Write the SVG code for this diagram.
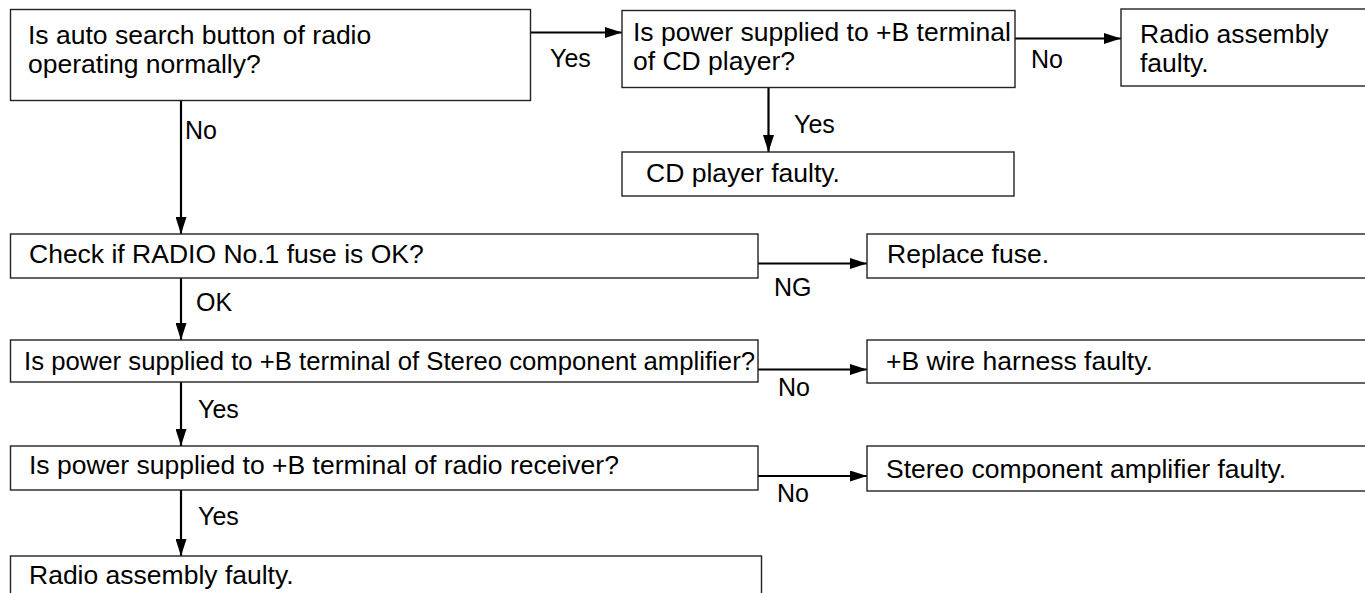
<svg xmlns="http://www.w3.org/2000/svg" width="1365" height="593" viewBox="0 0 1365 593">
<style>
  .box { fill: #fff; stroke: #222; stroke-width: 1.4; }
  .t { font-family: "Liberation Sans", Arial, sans-serif; font-size: 26.5px; fill: #000; }
  .lbl { font-family: "Liberation Sans", Arial, sans-serif; font-size: 25px; fill: #000; }
  .c { stroke: #000; stroke-width: 2.2; fill: none; }
</style>
<defs>
  <marker id="ah" markerUnits="userSpaceOnUse" markerWidth="17" markerHeight="11" refX="17" refY="5.5" orient="auto">
    <path d="M0,0 L17,5.5 L0,11 Z" fill="#000"/>
  </marker>
</defs>
<rect width="1365" height="593" fill="#fff"/>
<g id="connectors">
  <line class="c" x1="531" y1="32.5" x2="622" y2="32.5" marker-end="url(#ah)"/>
  <line class="c" x1="1015" y1="38.5" x2="1121" y2="38.5" marker-end="url(#ah)"/>
  <line class="c" x1="768.5" y1="88" x2="768.5" y2="152" marker-end="url(#ah)"/>
  <line class="c" x1="181" y1="101" x2="181" y2="234" marker-end="url(#ah)"/>
  <line class="c" x1="758" y1="263.5" x2="867" y2="263.5" marker-end="url(#ah)"/>
  <line class="c" x1="181" y1="278" x2="181" y2="340" marker-end="url(#ah)"/>
  <line class="c" x1="758" y1="369.5" x2="867" y2="369.5" marker-end="url(#ah)"/>
  <line class="c" x1="181" y1="382" x2="181" y2="446" marker-end="url(#ah)"/>
  <line class="c" x1="758" y1="476" x2="867" y2="476" marker-end="url(#ah)"/>
  <line class="c" x1="181" y1="490" x2="181" y2="556" marker-end="url(#ah)"/>
  <text class="lbl" x="550" y="67">Yes</text>
  <text class="lbl" x="1031" y="68">No</text>
  <text class="lbl" x="794" y="133">Yes</text>
  <text class="lbl" x="185" y="139">No</text>
  <text class="lbl" x="774" y="296">NG</text>
  <text class="lbl" x="196" y="311">OK</text>
  <text class="lbl" x="778" y="396">No</text>
  <text class="lbl" x="198" y="418">Yes</text>
  <text class="lbl" x="777" y="502">No</text>
  <text class="lbl" x="198" y="525">Yes</text>
</g>
<g id="n1">
  <rect class="box" x="10.5" y="9.5" width="520" height="91"/>
  <text class="t" x="28" y="44">Is auto search button of radio</text>
  <text class="t" x="28" y="73">operating normally?</text>
</g>
<g id="n2">
  <rect class="box" x="622" y="10.5" width="393" height="77"/>
  <text class="t" x="633" y="41">Is power supplied to +B terminal</text>
  <text class="t" x="633" y="70">of CD player?</text>
</g>
<g id="n3">
  <rect class="box" x="1121" y="9" width="250" height="77"/>
  <text class="t" x="1140" y="43">Radio assembly</text>
  <text class="t" x="1140" y="72">faulty.</text>
</g>
<g id="n4">
  <rect class="box" x="622" y="152" width="392" height="44"/>
  <text class="t" x="646" y="182">CD player faulty.</text>
</g>
<g id="n5">
  <rect class="box" x="10.5" y="234" width="747.5" height="44"/>
  <text class="t" x="29" y="263">Check if RADIO No.1 fuse is OK?</text>
</g>
<g id="n6">
  <rect class="box" x="867" y="234" width="504" height="44"/>
  <text class="t" x="887" y="263">Replace fuse.</text>
</g>
<g id="n7">
  <rect class="box" x="10.5" y="340" width="747.5" height="42"/>
  <text class="t" x="24" y="370" textLength="731" lengthAdjust="spacingAndGlyphs">Is power supplied to +B terminal of Stereo component amplifier?</text>
</g>
<g id="n8">
  <rect class="box" x="867" y="340" width="504" height="43"/>
  <text class="t" x="886" y="370">+B wire harness faulty.</text>
</g>
<g id="n9">
  <rect class="box" x="10.5" y="446" width="747.5" height="44"/>
  <text class="t" x="29" y="474">Is power supplied to +B terminal of radio receiver?</text>
</g>
<g id="n10">
  <rect class="box" x="867" y="446" width="504" height="45"/>
  <text class="t" x="886" y="478">Stereo component amplifier faulty.</text>
</g>
<g id="n11">
  <rect class="box" x="10.5" y="556" width="751" height="50"/>
  <text class="t" x="29" y="584">Radio assembly faulty.</text>
</g>
</svg>
